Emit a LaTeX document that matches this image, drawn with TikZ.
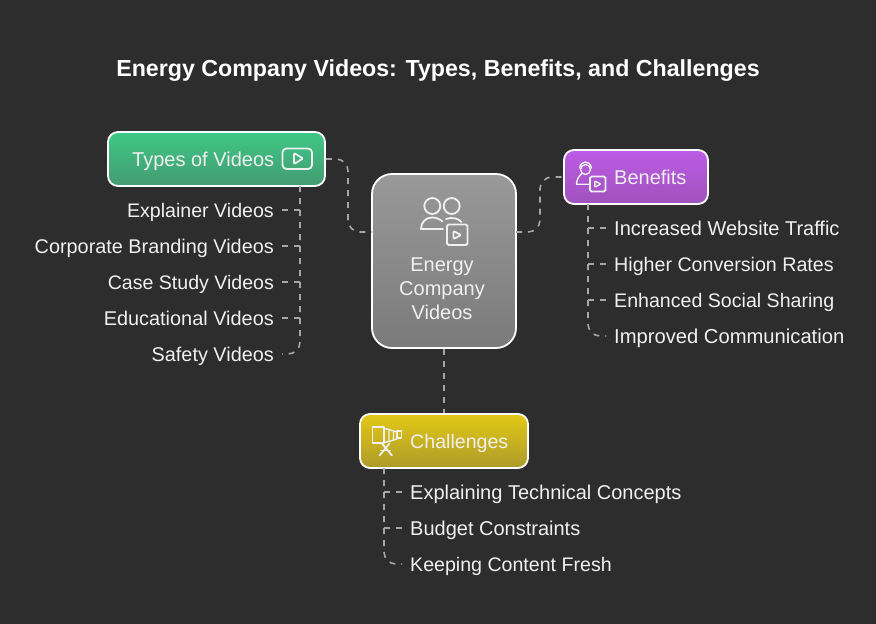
\documentclass[tikz,border=0pt]{standalone}
\usepackage{fontspec}
\setmainfont{Liberation Sans}
\definecolor{bgc}{HTML}{2D2D2D}
\definecolor{txtc}{HTML}{F0F0F0}
\definecolor{linec}{HTML}{A6A6A6}
\definecolor{gA}{HTML}{3EC886}
\definecolor{gB}{HTML}{459B72}
\definecolor{cA}{HTML}{999999}
\definecolor{cB}{HTML}{7A7A7A}
\definecolor{pA}{HTML}{BD5BE6}
\definecolor{pB}{HTML}{9F52BC}
\definecolor{yA}{HTML}{E3C916}
\definecolor{yB}{HTML}{AD9A2A}
\tikzset{
  box/.style={draw=white,line width=1.8pt,rounded corners=10pt,inner sep=0pt,minimum height=54pt},
  lab/.style={text=txtc,inner ysep=0pt,inner xsep=0pt,text height=14pt,text depth=0pt,font=\fontsize{#1}{24}\selectfont},
  lab/.default=20,
  leaf/.style={lab=#1,inner xsep=8pt},
  leaf/.default=20,
  conn/.style={draw=linec,line width=1.6pt,dash pattern=on 6pt off 6pt,rounded corners=12pt},
  icon/.style={draw=txtc,line width=1.8pt,line join=round,line cap=round},
}
\begin{document}
\begin{tikzpicture}[x=1pt,y=-1pt]
\path[fill=bgc,use as bounding box] (0,0) rectangle (876,624);
\node[text=white,font=\bfseries\fontsize{23.2}{28}\selectfont] (title) at (438,70.5) {Energy Company Videos: Types, Benefits, and Challenges};
% trunk tops and bends
\coordinate (t0) at (300,186);
\coordinate (b0) at (588,204);
\coordinate (c0) at (384,468);
\coordinate (bendL) at (348,195);
\coordinate (bendR) at (540,205);
\coordinate (cL) at (372,232);
\coordinate (cR) at (516,232);
% leaves
\node[leaf=19.6,anchor=east] (l1) at (282,210) {Explainer Videos};
\node[leaf=19.85,anchor=east] (l2) at (282,246) {Corporate Branding Videos};
\node[leaf=19.55,anchor=east] (l3) at (282,282) {Case Study Videos};
\node[leaf=19.9,anchor=east] (l4) at (282,318) {Educational Videos};
\node[leaf=19.85,anchor=east] (l5) at (282,354) {Safety Videos};
\node[leaf=20,anchor=west] (r1) at (606,228) {Increased Website Traffic};
\node[leaf=19.65,anchor=west] (r2) at (606,264) {Higher Conversion Rates};
\node[leaf=19.6,anchor=west] (r3) at (606,300) {Enhanced Social Sharing};
\node[leaf=20.2,anchor=west] (r4) at (606,336) {Improved Communication};
\node[leaf=20,anchor=west] (d1) at (402,492) {Explaining Technical Concepts};
\node[leaf=20,anchor=west] (d2) at (402,528) {Budget Constraints};
\node[leaf=19.6,anchor=west] (d3) at (402,564) {Keeping Content Fresh};
% boxes placed first for connectors
\node[box,minimum width=217pt,top color=gA,bottom color=gB] (types) at (216.5,159) {};
\node[box,minimum width=144pt,minimum height=174pt,rounded corners=20pt,top color=cA,bottom color=cB] (center) at (444,261) {};
\node[box,minimum width=144pt,top color=pA,bottom color=pB] (benefits) at (636,177) {};
\node[box,minimum width=168pt,top color=yA,bottom color=yB] (chall) at (444,441) {};
% connectors
\draw[conn] (types.east) -| (bendL) |- (cL);
\draw[conn] (cR) -| (bendR) |- (benefits.west);
\draw[conn] (center.south) -- (chall.north);
\foreach \n in {l1,l2,l3,l4} \draw[conn,rounded corners=0pt] (\n.east -| t0) -- (\n.east);
\draw[conn] (t0) |- (l5.east);
\foreach \n in {r1,r2,r3} \draw[conn,rounded corners=0pt] (\n.west -| b0) -- (\n.west);
\draw[conn] (b0) |- (r4.west);
\foreach \n in {d1,d2} \draw[conn,rounded corners=0pt] (\n.west -| c0) -- (\n.west);
\draw[conn] (c0) |- (d3.west);
% box labels
\node[lab,anchor=west] (tl) at (132,159) {Types of Videos};
\node[lab,anchor=west] (bl) at (614,177) {Benefits};
\node[lab=19.6,anchor=west] (cl) at (410,441) {Challenges};
\node[lab] (m1) at (442,264) {Energy};
\node[lab] (m2) at (442,288) {Company};
\node[lab] (m3) at (442,312) {Videos};
% play icon
\draw[icon,rounded corners=4pt] (282.5,148.5) rectangle (312,169);
\draw[icon,rounded corners=1pt] (294,153) -- (303,158.5) -- (294,164) -- cycle;
% people icon
\draw[icon] (432.3,206) circle (8);
\draw[icon] (451.7,206) circle (8);
\draw[icon] (443,229) -- (421,229) .. controls (421,222) and (426,217.5) .. (432,217.5) .. controls (436,217.5) and (440,219) .. (442.5,221.5);
\draw[icon] (446,219) .. controls (452,217) and (458,218) .. (461.5,222);
\draw[icon,rounded corners=1.5pt] (447,224.5) rectangle (467.5,245);
\draw[icon,rounded corners=1pt] (453.5,231) -- (461,235) -- (453.5,239) -- cycle;
% benefits icon
\draw[icon,line width=1.4pt] (585.5,169.5) circle (5);
\draw[icon,line width=1.4pt] (579.5,168) .. controls (581,160) and (590,160) .. (591.5,168);
\draw[icon,line width=1.4pt] (589,184.2) -- (576.5,184.2) .. controls (576.5,180) and (579,175.5) .. (582,173.5);
\draw[icon,rounded corners=1.5pt] (590,176.5) rectangle (605.5,191.5);
\draw[icon,line width=1.4pt,rounded corners=.8pt] (594.8,181) -- (600.8,184) -- (594.8,187.2) -- cycle;
% camera icon
\draw[icon] (372.5,427) rectangle (384,443);
\draw[icon,line width=1.4pt] (384,428.5) -- (389,429.5) -- (389,441.5) -- (384,442.5);
\draw[icon,line width=1.4pt] (389,429.5) -- (393.5,431) -- (393.5,440) -- (389,441.5);
\draw[icon,line width=1.4pt] (393.5,431) -- (397,432) -- (397,439) -- (393.5,440);
\draw[icon,line width=1.4pt] (397,431) rectangle (401.5,438);
\draw[icon] (379.5,455.5) -- (389.5,443.5);
\draw[icon] (392,455.5) -- (382,443.5);
\draw[icon,line width=1.4pt] (381,450.5) -- (390,450.5);
\end{tikzpicture}
\end{document}
